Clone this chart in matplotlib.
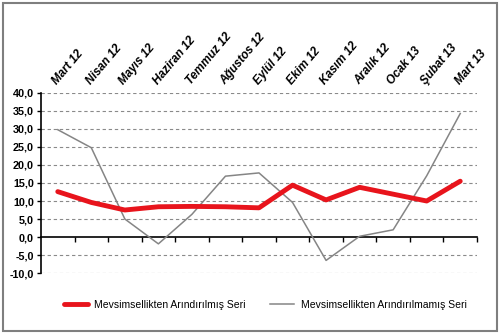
import matplotlib
matplotlib.use("Agg")
import matplotlib.pyplot as plt
from matplotlib.patches import Rectangle

plt.rcParams['font.family'] = ['Liberation Sans', 'DejaVu Sans']

months = ["Mart 12", "Nisan 12", "Mayıs 12", "Haziran 12", "Temmuz 12", "Ağustos 12",
          "Eylül 12", "Ekim 12", "Kasım 12", "Aralık 12", "Ocak 13", "Şubat 13", "Mart 13"]
adjusted = [12.6, 9.6, 7.5, 8.4, 8.5, 8.4, 8.1, 14.4, 10.3, 13.8, 11.9, 10.0, 15.5]
unadjusted = [29.8, 24.8, 5.0, -1.9, 6.3, 16.9, 17.8, 9.6, -6.5, 0.2, 2.0, 17.0, 34.3]
y_ticks = [-10, -5, 0, 5, 10, 15, 20, 25, 30, 35, 40]

fig = plt.figure(figsize=(5.0, 3.34), dpi=100)
ax = fig.add_axes([0.082, 0.1826, 0.872, 0.539])

x = list(range(len(months)))
ax.plot(x, adjusted, color='#e8141c', lw=3.5, solid_capstyle='round',
        solid_joinstyle='round', label='Mevsimsellikten Arındırılmış Seri', zorder=4)
ax.plot(x, unadjusted, color='#858585', lw=1.1, label='Mevsimsellikten Arındırılmamış Seri', zorder=3)

ax.set_xlim(-0.5, len(months) - 0.5)
ax.set_ylim(-10, 40)

# dashed horizontal grid, zero line handled by the bottom spine
for v in y_ticks:
    if v != 0:
        ax.axhline(v, color='#8a8a8a', lw=0.8, ls=(0, (3, 2.5)), zorder=1)

ax.set_yticks(y_ticks)
ax.set_yticklabels([f"{v:.1f}".replace('.', ',') for v in y_ticks], fontsize=7.8, fontweight='bold')
ax.tick_params(axis='y', direction='out', length=3, width=1, pad=2)

ax.spines['top'].set_visible(False)
ax.spines['right'].set_visible(False)
ax.spines['left'].set_linewidth(1.2)
ax.spines['bottom'].set_position(('data', 0))
ax.spines['bottom'].set_linewidth(1.2)
ax.set_xticks([i + 0.5 for i in x])
ax.set_xticklabels([])
ax.tick_params(axis='x', direction='out', length=3.5, width=1)

# month labels above the plot, slanted
for i, m in enumerate(months):
    ax.text(i - 0.02, 1.045, m, transform=ax.get_xaxis_transform(), rotation=50,
            rotation_mode='anchor', ha='left', va='baseline', fontsize=8.5,
            fontweight='bold', fontstyle='italic')

fig.legend(loc='center', bbox_to_anchor=(0.53, 0.087), ncol=2, frameon=False,
           fontsize=7.5, handlelength=2.3, columnspacing=2.4, handletextpad=0.6)

fig.patches.append(Rectangle((0.006, 0.009), 0.988, 0.982, transform=fig.transFigure,
                             fill=False, edgecolor='#7f7f7f', lw=1.5))

fig.savefig("out.png", dpi=100)
